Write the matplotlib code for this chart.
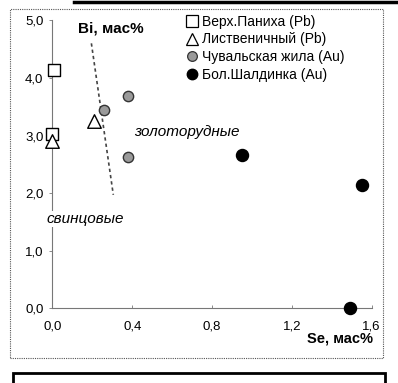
import numpy as np
import matplotlib
matplotlib.use('Agg')
import matplotlib.pyplot as plt
from matplotlib.patches import Rectangle
from matplotlib.lines import Line2D

plt.rcParams['font.family'] = ['Liberation Sans', 'DejaVu Sans']

# данные (Se, Bi в мас%)
panikha_se = [0.01, 0.0]
panikha_bi = [4.13, 3.03]
listv_se = [0.0, 0.21]
listv_bi = [2.9, 3.25]
chuval_se = [0.26, 0.38, 0.38]
chuval_bi = [3.44, 3.68, 2.63]
shald_se = [0.95, 1.55, 1.49]
shald_bi = [2.66, 2.14, 0.0]
# граница свинцовые / золоторудные
border_se = [0.195, 0.305]
border_bi = [4.6, 1.97]

labels = ['Верх.Паниха (Pb)', 'Лиственичный (Pb)',
          'Чувальская жила (Au)', 'Бол.Шалдинка (Au)']
x_ticks = [0.0, 0.4, 0.8, 1.2, 1.6]
x_tick_labels = ['0,0', '0,4', '0,8', '1,2', '1,6']
y_ticks = [0, 1, 2, 3, 4, 5]
y_tick_labels = ['0,0', '1,0', '2,0', '3,0', '4,0', '5,0']

W, H = 398, 383
fig = plt.figure(figsize=(W / 100, H / 100), dpi=100)
ax = fig.add_axes([52.5 / W, (H - 308.3) / H, 319 / W, 288 / H])

ax.scatter(panikha_se, panikha_bi, marker='s', s=85, facecolor='white',
           edgecolor='black', linewidth=1.0, zorder=3, clip_on=False)
ax.scatter(listv_se, listv_bi, marker='^', s=95, facecolor='white',
           edgecolor='black', linewidth=1.0, zorder=3, clip_on=False)
ax.scatter(chuval_se, chuval_bi, marker='o', s=55, facecolor='#9a9a9a',
           edgecolor='#333333', linewidth=1.0, zorder=3, clip_on=False)
ax.scatter(shald_se, shald_bi, marker='o', s=75, facecolor='black',
           edgecolor='black', zorder=3, clip_on=False)
ax.plot(border_se, border_bi, color='#444444', lw=1.2, ls=(0, (2, 1.8)))

ax.set_xlim(0, 1.6)
ax.set_ylim(0, 5)
ax.set_xticks(x_ticks)
ax.set_xticklabels(x_tick_labels, fontsize=9.5)
ax.set_yticks(y_ticks)
ax.set_yticklabels(y_tick_labels, fontsize=9.5)
ax.tick_params(axis='x', direction='in', length=2.5, width=0.6, pad=9, color='#777777')
ax.tick_params(axis='y', direction='out', length=2.5, width=0.6, pad=4, color='#777777')
for sp in ['top', 'right']:
    ax.spines[sp].set_visible(False)
for sp in ['left', 'bottom']:
    ax.spines[sp].set_color('#777777')
    ax.spines[sp].set_linewidth(0.8)

ax.text(0.13, 4.86, 'Bi, мас%', fontsize=11, fontweight='bold', va='center')
ax.text(1.61, -0.52, 'Se, мас%', fontsize=10.5, fontweight='bold',
        ha='right', va='center', clip_on=False)
ax.text(0.41, 3.06, 'золоторудные', fontsize=11, style='italic', va='center')
ax.text(-0.03, 1.55, 'свинцовые', fontsize=11, style='italic', va='center',
        bbox=dict(facecolor='white', edgecolor='none', pad=1), zorder=4)

handles = [
    Line2D([], [], ls='', marker='s', ms=8, mfc='white', mec='black', mew=0.9),
    Line2D([], [], ls='', marker='^', ms=8, mfc='white', mec='black', mew=0.9),
    Line2D([], [], ls='', marker='o', ms=7, mfc='#9a9a9a', mec='#333333', mew=0.9),
    Line2D([], [], ls='', marker='o', ms=7.5, mfc='black', mec='black'),
]
ax.legend(handles, labels, loc='upper left', bbox_to_anchor=(0.42, 1.02),
          frameon=False, fontsize=10, handlelength=0.8, handletextpad=0.3,
          labelspacing=0.28, borderpad=0, borderaxespad=0)

# рамка рисунка
fig.add_artist(Rectangle((10 / W, (H - 358) / H), 373 / W, 349 / H,
                         transform=fig.transFigure, fill=False,
                         edgecolor='#555555', lw=0.8, ls=(0, (1, 1))))
fig.add_artist(Rectangle((13 / W, -0.1), 372 / W, (H - 373) / H + 0.1,
                         transform=fig.transFigure, fill=False,
                         edgecolor='black', lw=2))
fig.add_artist(Line2D([74 / W, 1.0], [1 - 1.5 / H, 1 - 1.5 / H],
                      transform=fig.transFigure, color='black', lw=2.5))

fig.savefig('out.png', dpi=100)
